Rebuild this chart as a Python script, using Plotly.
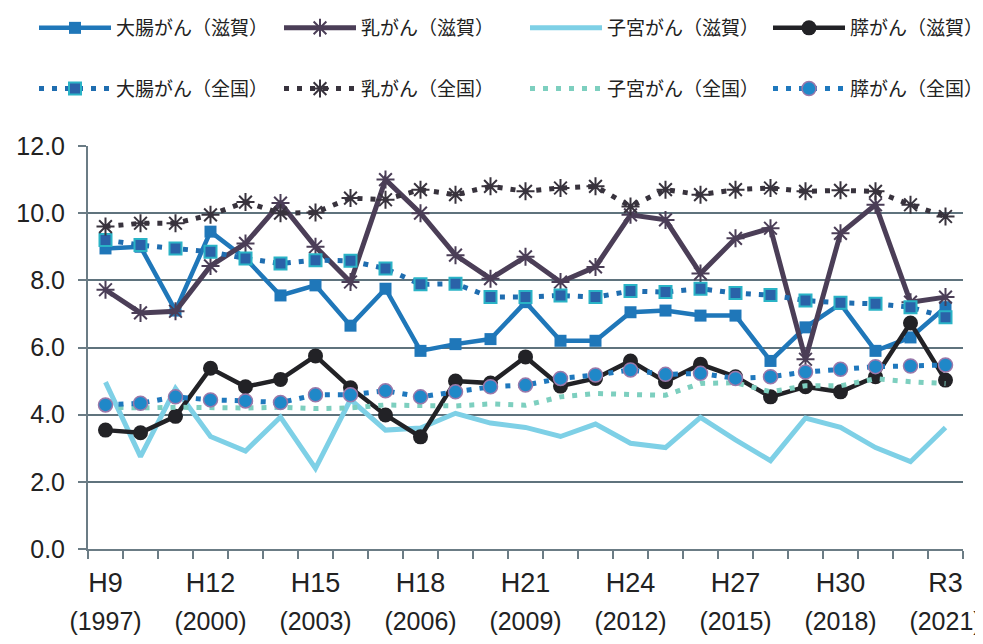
import plotly.graph_objects as go

categories = ["H9", "H10", "H11", "H12", "H13", "H14", "H15", "H16", "H17", "H18",
              "H19", "H20", "H21", "H22", "H23", "H24", "H25", "H26", "H27", "H28",
              "H29", "H30", "R1", "R2", "R3"]
era_labels = ["H9", "", "", "H12", "", "", "H15", "", "", "H18", "", "", "H21", "", "",
              "H24", "", "", "H27", "", "", "H30", "", "", "R3"]
year_labels = ["(1997)", "", "", "(2000)", "", "", "(2003)", "", "", "(2006)", "", "",
               "(2009)", "", "", "(2012)", "", "", "(2015)", "", "", "(2018)", "", "", "(2021)"]

colorectal_shiga = [8.95, 9.0, 7.1, 9.45, 8.65, 7.55, 7.85, 6.65, 7.75, 5.9, 6.1, 6.25, 7.35,
                    6.2, 6.2, 7.05, 7.1, 6.95, 6.95, 5.6, 6.6, 7.3, 5.9, 6.3, 7.2]
breast_shiga = [7.72, 7.03, 7.08, 8.43, 9.1, 10.3, 9.0, 7.95, 11.0, 10.0, 8.75, 8.05, 8.7,
                7.95, 8.4, 9.95, 9.8, 8.2, 9.25, 9.55, 5.65, 9.4, 10.25, 7.35, 7.5]
cervical_shiga = [4.97, 2.75, 4.78, 3.35, 2.92, 3.93, 2.4, 4.45, 3.54, 3.6, 4.04, 3.75, 3.62,
                  3.35, 3.72, 3.15, 3.02, 3.92, 3.25, 2.63, 3.9, 3.62, 3.02, 2.6, 3.62]
pancreatic_shiga = [3.54, 3.46, 3.95, 5.38, 4.83, 5.05, 5.75, 4.8, 3.99, 3.34, 5.0, 4.94, 5.72,
                    4.85, 5.08, 5.6, 4.98, 5.5, 5.13, 4.53, 4.83, 4.68, 5.13, 6.73, 5.03]

colorectal_nat = [9.2, 9.05, 8.95, 8.85, 8.65, 8.5, 8.6, 8.58, 8.35, 7.88, 7.9, 7.5, 7.5,
                  7.55, 7.5, 7.68, 7.65, 7.75, 7.62, 7.56, 7.4, 7.33, 7.3, 7.2, 6.9]
breast_nat = [9.6, 9.7, 9.7, 9.95, 10.33, 10.0, 10.02, 10.45, 10.4, 10.7, 10.55, 10.8, 10.65,
              10.75, 10.8, 10.2, 10.7, 10.55, 10.7, 10.75, 10.65, 10.68, 10.65, 10.25, 9.9]
cervical_nat = [4.22, 4.2, 4.22, 4.2, 4.2, 4.22, 4.18, 4.2, 4.29, 4.27, 4.26, 4.32, 4.28,
                4.53, 4.63, 4.6, 4.58, 4.93, 4.95, 4.68, 4.86, 4.86, 5.07, 4.98, 4.93]
pancreatic_nat = [4.29, 4.34, 4.53, 4.44, 4.41, 4.36, 4.59, 4.59, 4.71, 4.53, 4.68, 4.83, 4.88,
                  5.08, 5.18, 5.33, 5.2, 5.23, 5.08, 5.13, 5.27, 5.35, 5.43, 5.45, 5.48]

names_shiga = ["大腸がん（滋賀）", "乳がん（滋賀）", "子宮がん（滋賀）", "膵がん（滋賀）"]
names_nat = ["大腸がん（全国）", "乳がん（全国）", "子宮がん（全国）", "膵がん（全国）"]

DOT = "5px,8px"
fig = go.Figure()

# Shiga series (solid)
fig.add_trace(go.Scatter(x=categories, y=colorectal_shiga, name=names_shiga[0], mode="lines+markers",
                         line=dict(color="#1f77b9", width=4.5),
                         marker=dict(symbol="square", size=12, color="#1f77b9"),
                         legend="legend", legendgroup="s0"))
fig.add_trace(go.Scatter(x=categories, y=breast_shiga, name=names_shiga[1], mode="lines+markers",
                         line=dict(color="#4b3e57", width=5),
                         marker=dict(symbol="asterisk-open", size=15, color="#4b3e57",
                                     line=dict(color="#4b3e57", width=2)),
                         legend="legend2", legendgroup="s1"))
fig.add_trace(go.Scatter(x=categories, y=cervical_shiga, name=names_shiga[2], mode="lines",
                         line=dict(color="#7ed0e6", width=5),
                         legend="legend3", legendgroup="s2"))
fig.add_trace(go.Scatter(x=categories, y=pancreatic_shiga, name=names_shiga[3], mode="lines+markers",
                         line=dict(color="#222226", width=4.5),
                         marker=dict(symbol="circle", size=15, color="#222226"),
                         legend="legend4", legendgroup="s3"))

# National series (dotted)
fig.add_trace(go.Scatter(x=categories, y=colorectal_nat, name=names_nat[0], mode="lines+markers",
                         line=dict(color="#1f6db0", width=5, dash=DOT),
                         marker=dict(symbol="square", size=12, color="#2a62a8",
                                     line=dict(color="#2ab3c6", width=2)),
                         legend="legend", legendgroup="n0"))
fig.add_trace(go.Scatter(x=categories, y=breast_nat, name=names_nat[1], mode="lines+markers",
                         line=dict(color="#38333d", width=5, dash=DOT),
                         marker=dict(symbol="asterisk-open", size=15, color="#38333d",
                                     line=dict(color="#38333d", width=2)),
                         legend="legend2", legendgroup="n1"))
fig.add_trace(go.Scatter(x=categories, y=cervical_nat, name=names_nat[2], mode="lines",
                         line=dict(color="#7dcfbf", width=5, dash=DOT),
                         legend="legend3", legendgroup="n2"))
# last series on the overlaying x2 axis (same scale), which carries the year labels
fig.add_trace(go.Scatter(x=categories, y=pancreatic_nat, name=names_nat[3], mode="lines+markers",
                         line=dict(color="#1f78bd", width=5, dash=DOT),
                         marker=dict(symbol="circle", size=14, color="#1f88c8",
                                     line=dict(color="#9a78aa", width=1.5)),
                         legend="legend4", legendgroup="n3", xaxis="x2", yaxis="y"))

W, H = 975, 628
legend_common = dict(orientation="v", xref="container", yref="container",
                     xanchor="left", yanchor="top", itemwidth=72, tracegroupgap=33,
                     bgcolor="rgba(0,0,0,0)",
                     font=dict(family="Noto Sans CJK JP", size=19, color="#222222"))
legend_y = 1 - 1 / H

fig.update_layout(
    width=W, height=H,
    margin=dict(l=80, r=20, t=138, b=87, autoexpand=False),
    paper_bgcolor="white", plot_bgcolor="white",
    showlegend=True,
    legend=dict(x=26 / W, y=legend_y, **legend_common),
    legend2=dict(x=271 / W, y=legend_y, **legend_common),
    legend3=dict(x=517 / W, y=legend_y, **legend_common),
    legend4=dict(x=760 / W, y=legend_y, **legend_common),
    xaxis=dict(type="category", categoryarray=categories, tickmode="array",
               tickvals=categories, ticktext=era_labels,
               tickson="boundaries", ticks="outside", ticklen=8, tickwidth=2, tickcolor="#6b7c85",
               showgrid=False, showline=True, linecolor="#6b7c85", linewidth=2,
               tickfont=dict(family="Liberation Sans", size=27, color="#222222"),
               ticklabelstandoff=9, tickangle=0, range=[-0.5, 24.5], automargin=False),
    xaxis2=dict(type="category", categoryarray=categories, overlaying="x", anchor="y", side="bottom",
                matches="x", tickmode="array", tickvals=categories, ticktext=year_labels,
                ticks="", showline=False, showgrid=False, zeroline=False,
                tickfont=dict(family="Liberation Sans", size=25, color="#222222"),
                ticklabelstandoff=55, tickangle=0, automargin=False),
    yaxis=dict(range=[0, 12], dtick=2, tickformat=".1f", ticks="outside", ticklen=8, tickwidth=2,
               tickcolor="#6b7c85", showgrid=True, gridcolor="#5f737d", gridwidth=2,
               showline=True, linecolor="#6b7c85", linewidth=2, zeroline=False,
               ticklabelstandoff=8, automargin=False,
               tickfont=dict(family="Liberation Sans", size=25, color="#222222")),
)

fig.write_html("out.html")
